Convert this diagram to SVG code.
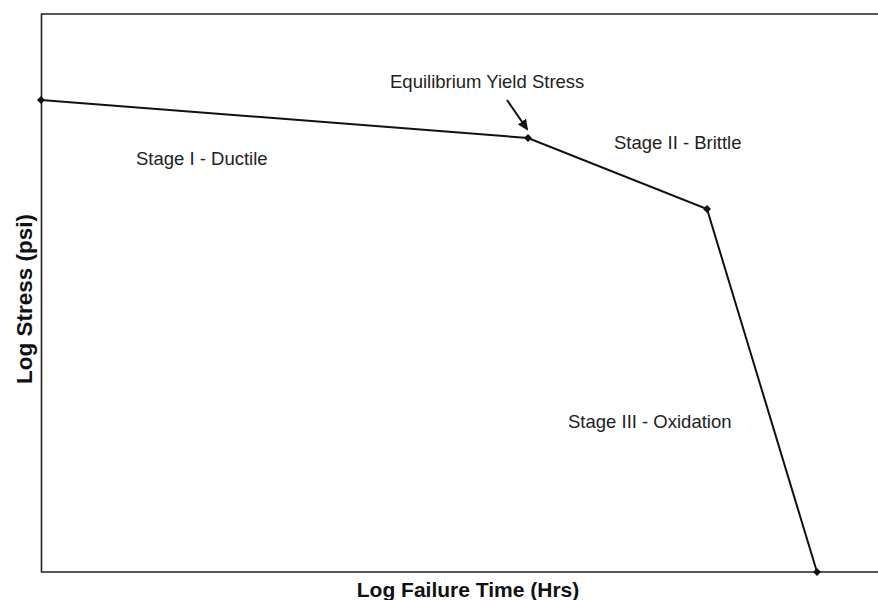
<svg xmlns="http://www.w3.org/2000/svg" width="878" height="600" viewBox="0 0 878 600">
<style>
.lbl{font-family:"Liberation Sans",Arial,sans-serif;font-size:18.5px;fill:#222}
.ax{font-family:"Liberation Sans",Arial,sans-serif;font-size:21px;font-weight:bold;fill:#111}
.frame{fill:none;stroke:#222;stroke-width:1.6}
.curve{fill:none;stroke:#111;stroke-width:2}
.pt{fill:#111}
</style>
<defs>
<marker id="ah" markerWidth="11" markerHeight="10" refX="9" refY="5" orient="auto" markerUnits="userSpaceOnUse">
<path d="M0,0 L11,5 L0,10 z" fill="#111"/>
</marker>
</defs>
<g id="frame">
<path class="frame" d="M878,14 H41.5 V572 H878"/>
</g>
<g id="connectors">
<polyline class="curve" points="41,100 528,138 707,209 817,572"/>
<line x1="507" y1="100" x2="527" y2="129" stroke="#111" stroke-width="2" marker-end="url(#ah)"/>
</g>
<g id="points">
<path class="pt" d="M41,96 L45,100 L41,104 L37,100 z"/>
<path class="pt" d="M528,134 L532,138 L528,142 L524,138 z"/>
<path class="pt" d="M707,205 L711,209 L707,213 L703,209 z"/>
<path class="pt" d="M817,568 L821,572 L817,576 L813,572 z"/>
</g>
<g id="labels">
<text class="lbl" x="390" y="88">Equilibrium Yield Stress</text>
<text class="lbl" x="136" y="165">Stage I - Ductile</text>
<text class="lbl" x="614" y="149">Stage II - Brittle</text>
<text class="lbl" x="568" y="428">Stage III - Oxidation</text>
<text class="ax" x="468" y="597" text-anchor="middle">Log Failure Time (Hrs)</text>
<text class="ax" style="font-size:22.5px" transform="translate(32,299) rotate(-90)" text-anchor="middle">Log Stress (psi)</text>
</g>
</svg>
